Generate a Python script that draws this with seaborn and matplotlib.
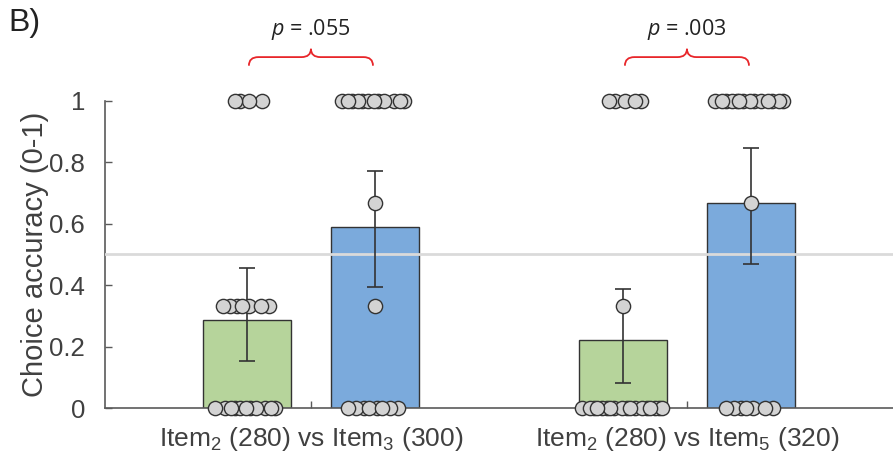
import numpy as np
import pandas as pd
import matplotlib
matplotlib.use("Agg")
import matplotlib.pyplot as plt
from matplotlib.path import Path
from matplotlib.patches import PathPatch
import seaborn as sns

# ---- data -------------------------------------------------------------
pairs = ["Item$_2$ (280) vs Item$_3$ (300)", "Item$_2$ (280) vs Item$_5$ (320)"]
options = ["Item2", "Other"]

# per-participant choice accuracy (proportion of 3 trials)
acc_pair1_item2 = [1, 1, 1, 1] + [1/3] * 7 + [0] * 11
acc_pair1_other = [1] * 12 + [2/3, 1/3] + [0] * 8
acc_pair2_item2 = [1] * 5 + [1/3] + [0] * 18
acc_pair2_other = [1] * 14 + [2/3] + [0] * 7

# confidence intervals of the mean
ci_low = {"pair1": [0.153, 0.393], "pair2": [0.081, 0.469]}
ci_high = {"pair1": [0.457, 0.772], "pair2": [0.388, 0.847]}

p_labels = [".055", ".003"]

# ---- styling ----------------------------------------------------------
sns.set_style("ticks")
plt.rcParams["font.family"] = ["Liberation Sans", "DejaVu Sans"]
plt.rcParams["mathtext.fontset"] = "custom"
plt.rcParams["mathtext.rm"] = "Liberation Sans"
plt.rcParams["mathtext.it"] = "Open Sans:italic"

GREEN = "#b6d49b"
BLUE = "#7baadc"
EDGE = "#333333"
AXIS = "#5a5a5a"
TEXT = "#404040"

values = [[acc_pair1_item2, acc_pair1_other], [acc_pair2_item2, acc_pair2_other]]
lows = [ci_low["pair1"], ci_low["pair2"]]
highs = [ci_high["pair1"], ci_high["pair2"]]

rows = []
for pi, pair in enumerate(pairs):
    for oi, opt in enumerate(options):
        rows.append({"pair": pair, "option": opt,
                     "accuracy": float(np.mean(values[pi][oi]))})
df = pd.DataFrame(rows)

fig = plt.figure(figsize=(8.93, 4.61), dpi=100)
ax = fig.add_axes([104.5 / 893, 53 / 461, (893 - 104.5) / 893, 307 / 461])

sns.barplot(data=df, x="pair", y="accuracy", hue="option", order=pairs,
            hue_order=options, palette=[GREEN, BLUE], width=0.68, gap=0.31,
            edgecolor=EDGE, linewidth=1.0, errorbar=None, legend=False,
            saturation=1, ax=ax, zorder=2)
bar_groups = [list(c.patches) for c in ax.containers]

# chance level
ax.axhline(0.5, color="#dadada", lw=2, zorder=3)

golden = 0.6180339887
for oi, bars in enumerate(bar_groups):
    for pi, bar in enumerate(bars):
        xc = bar.get_x() + bar.get_width() / 2
        m = bar.get_height()
        lo, hi = lows[pi][oi], highs[pi][oi]
        ax.errorbar(xc, m, yerr=[[m - lo], [hi - m]], fmt="none",
                    ecolor=EDGE, elinewidth=1.2, capsize=6, capthick=1.2,
                    zorder=4)
        # spread the participant dots sharing the same value
        vals = np.asarray(values[pi][oi])
        xs, ys = [], []
        for v in np.unique(vals):
            k = int(np.sum(np.isclose(vals, v)))
            w = min(0.055 * np.sqrt(max(k - 1, 0)), 0.23)
            offs = (((np.arange(k) + 0.5) * golden) % 1 - 0.5) * w if k > 1 else np.zeros(1)
            xs.extend(xc + offs)
            ys.extend([v] * k)
        sns.scatterplot(x=xs, y=ys, ax=ax, s=105, color="#d3d3d3",
                        edgecolor="#333333", linewidth=1.0, zorder=5,
                        clip_on=False, legend=False)

# significance braces
def brace(ax, x0, x1, y_end, y_mid, y_top, r=0.025, color="#e8262a"):
    xm = (x0 + x1) / 2
    verts = [(x0, y_end), (x0, y_mid), (x0 + r, y_mid),
             (xm - r, y_mid),
             (xm, y_mid), (xm, y_top),
             (xm, y_mid), (xm + r, y_mid),
             (x1 - r, y_mid),
             (x1, y_mid), (x1, y_end)]
    codes = [Path.MOVETO, Path.CURVE3, Path.CURVE3,
             Path.LINETO,
             Path.CURVE3, Path.CURVE3,
             Path.CURVE3, Path.CURVE3,
             Path.LINETO,
             Path.CURVE3, Path.CURVE3]
    ax.add_patch(PathPatch(Path(verts, codes), fill=False, edgecolor=color,
                           lw=1.3, clip_on=False, zorder=6))

for pi in range(len(pairs)):
    brace(ax, pi - 0.165, pi + 0.165, 1.115, 1.143, 1.17)
    ax.text(pi, 1.232, f"$p$ = {p_labels[pi]}", ha="center", va="center",
            fontsize=15.5, color="#222222", family="Open Sans")

ax.set_xlim(-0.549, 1.548)
ax.set_ylim(0, 1)
ax.set_yticks([0, 0.2, 0.4, 0.6, 0.8, 1])
ax.set_yticklabels(["0", "0.2", "0.4", "0.6", "0.8", "1"])
ax.set_xticks([0, 1])
ax.set_xticklabels(pairs)
ax.set_xlabel("")
ax.set_ylabel("Choice accuracy (0-1)", fontsize=21, color=TEXT, labelpad=0)
ax.tick_params(axis="both", direction="in", length=5, width=1, color=AXIS,
               labelcolor=TEXT)
ax.tick_params(axis="y", labelsize=18.5, pad=14)
ax.tick_params(axis="x", labelsize=19, pad=12)
for side in ["top", "right"]:
    ax.spines[side].set_visible(False)
for side in ["left", "bottom"]:
    ax.spines[side].set_color(AXIS)
    ax.spines[side].set_linewidth(1.2)

fig.text(8 / 893, 1 - 8 / 461, "B)", ha="left", va="top", fontsize=23,
         color="#222222")

fig.savefig("out.png", dpi=100)
